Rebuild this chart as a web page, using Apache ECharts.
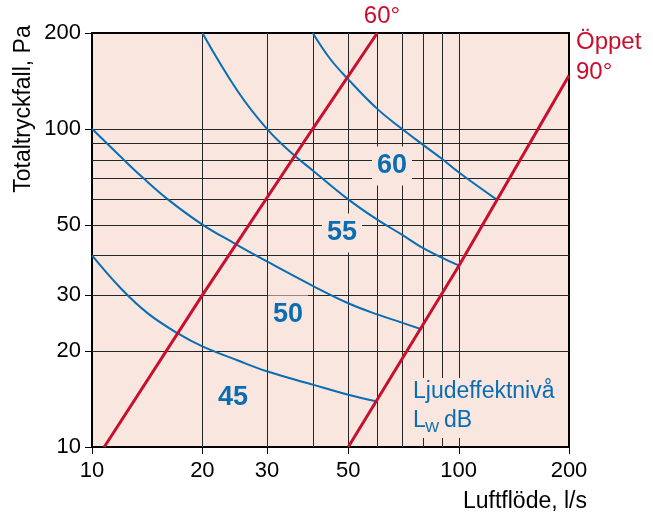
<!DOCTYPE html>
<html>
<head>
<meta charset="utf-8">
<script src="https://cdn.jsdelivr.net/npm/echarts@6/dist/echarts.min.js"></script>
<style>html,body{margin:0;padding:0;background:#fff}#c{width:653px;height:519px}</style>
</head>
<body>
<div id="c"></div>
<script>
// Axis ranges and tick/grid values
const xMin = 10, xMax = 200, yMin = 10, yMax = 200;
const xGrid = [20, 30, 40, 50, 60, 70, 80, 90, 100];
const yGrid = [20, 30, 40, 50, 60, 70, 80, 90, 100];
const xTicks = [10, 20, 30, 50, 100, 200];
const yTicks = [10, 20, 30, 50, 100, 200];

// Sound power level curves (Lw dB): [airflow l/s, pressure Pa]
const curve45 = [[10,40],[12.05,31.3],[14.2,26.3],[17.2,22.7],[20,20.7],[25,18.7],[30,17.3],[40,15.7],[50,14.6],[60,13.9]];
const curve50 = [[10,100],[12.2,80],[13.8,70],[16.1,60],[20,50],[24.5,43.6],[30,38.3],[40,32.1],[50,28.3],[60,26.1],[70,24.6],[79.5,23.4]];
const curve55 = [[20,200],[25,131],[30,100],[35.4,83],[40,74],[50,60],[60,51.8],[70,46.5],[80,42.2],[100,37.2]];
const curve60 = [[40,200],[44.6,166],[50,143],[60,115.5],[70,100],[80,89],[90,80.5],[100,73],[126.8,60]];

// Damper position lines
const damper60 = [[10.8,10],[20,30],[40,100],[60,200]];
const damper90 = [[50,10],[100,37],[200,147]];

const BG = '#f8e6df', BLUE = '#0a6db3', RED = '#c8102e', GRID = '#262626';
const FONT = "'Liberation Sans', Arial, Helvetica, sans-serif";
const NUMFONT = "'Liberation Sans Narrow', 'Liberation Sans', Arial, sans-serif";

const chart = echarts.init(document.getElementById('c'), null, {renderer: 'canvas'});

function gridLineSeries(vals, vertical) {
  return {
    type: 'custom', z: 1, silent: true,
    data: vals.map(v => vertical ? [v, yMin] : [xMin, v]),
    renderItem: function (params, api) {
      const v = vertical ? api.value(0) : api.value(1);
      const p1 = vertical ? api.coord([v, yMin]) : api.coord([xMin, v]);
      const p2 = vertical ? api.coord([v, yMax]) : api.coord([xMax, v]);
      const r = a => Math.round(a) + 0.5;
      return {
        type: 'line',
        shape: vertical ? {x1: r(p1[0]), y1: p1[1], x2: r(p2[0]), y2: p2[1]}
                        : {x1: p1[0], y1: r(p1[1]), x2: p2[0], y2: r(p2[1])},
        style: {stroke: GRID, lineWidth: 1}
      };
    }
  };
}

function tickSeries(vals, isX) {
  return {
    type: 'custom', z: 5, silent: true, clip: false,
    data: vals.map(v => isX ? [v, yMin] : [xMin, v]),
    renderItem: function (params, api) {
      const v = isX ? api.value(0) : api.value(1);
      const p = isX ? api.coord([v, yMin]) : api.coord([xMin, v]);
      const r = a => Math.round(a) + 0.5;
      if (isX) {
        return {
          type: 'group',
          children: [
            {type: 'line', shape: {x1: r(p[0]), y1: p[1], x2: r(p[0]), y2: p[1] + 7}, style: {stroke: '#000', lineWidth: 1}},
            {type: 'text', x: p[0], y: p[1] + 13, style: {text: String(v), font: '22px ' + FONT, fill: '#000', textAlign: 'center', align: 'center', textVerticalAlign: 'top', verticalAlign: 'top'}}
          ]
        };
      }
      return {
        type: 'group',
        children: [
          {type: 'line', shape: {x1: p[0] - 7, y1: r(p[1]), x2: p[0], y2: r(p[1])}, style: {stroke: '#000', lineWidth: 1}},
          {type: 'text', x: p[0] - 11, y: p[1], style: {text: String(v), font: '22px ' + FONT, fill: '#000', textAlign: 'right', align: 'right', textVerticalAlign: 'middle', verticalAlign: 'middle'}}
        ]
      };
    }
  };
}

function curve(data, color, width, smooth) {
  return {type: 'line', data: data, showSymbol: false, smooth: smooth, z: 3, silent: true,
          lineStyle: {color: color, width: width}};
}

function txt(x, y, text, opts) {
  return {
    type: 'text', x: x, y: y, z: 100,
    style: Object.assign({text: text, fill: '#000', font: '23px ' + FONT,
      textAlign: 'center', align: 'center', textVerticalAlign: 'middle', verticalAlign: 'middle'}, opts || {})
  };
}

const numStyle = {font: 'bold 27px ' + NUMFONT, fill: BLUE, backgroundColor: BG, padding: [7, 5, 5, 5]};

const yTitle = txt(24, 109, 'Totaltryckfall, Pa', {});
yTitle.rotation = Math.PI / 2;

chart.setOption({
  animation: false,
  grid: {left: 92, right: 84, top: 33, bottom: 72, show: true, backgroundColor: BG, borderColor: '#000', borderWidth: 2},
  xAxis: {type: 'log', logBase: 10, min: xMin, max: xMax,
          axisLine: {show: false}, axisTick: {show: false}, axisLabel: {show: false}, splitLine: {show: false}},
  yAxis: {type: 'log', logBase: 10, min: yMin, max: yMax,
          axisLine: {show: false}, axisTick: {show: false}, axisLabel: {show: false}, splitLine: {show: false}},
  series: [
    gridLineSeries(xGrid, true),
    gridLineSeries(yGrid, false),
    tickSeries(xTicks, true),
    tickSeries(yTicks, false),
    curve(curve45, BLUE, 2, 0.4),
    curve(curve50, BLUE, 2, 0.4),
    curve(curve55, BLUE, 2, 0.4),
    curve(curve60, BLUE, 2, 0.4),
    curve(damper60, RED, 3, false),
    curve(damper90, RED, 3, false)
  ],
  graphic: [
    {type: 'rect', z: 99, shape: {x: 409, y: 378, width: 152, height: 60}, style: {fill: BG}},
    yTitle,
    txt(525, 502, 'Luftflöde, l/s', {}),
    txt(382, 16, '60°', {fill: RED, font: '24px ' + FONT}),
    txt(576, 42, 'Öppet', {fill: RED, font: '24px ' + FONT, textAlign: 'left', align: 'left'}),
    txt(576, 72, '90°', {fill: RED, font: '24px ' + FONT, textAlign: 'left', align: 'left'}),
    txt(413, 392, 'Ljudeffektnivå', {fill: BLUE, textAlign: 'left', align: 'left'}),
    txt(413, 421, 'L', {fill: BLUE, textAlign: 'left', align: 'left'}),
    txt(425, 428, 'W', {fill: BLUE, font: '15px ' + FONT, textAlign: 'left', align: 'left'}),
    txt(444, 421, 'dB', {fill: BLUE, textAlign: 'left', align: 'left'}),
    txt(233, 398, '45', numStyle),
    txt(288, 315, '50', numStyle),
    txt(342, 233, '55', numStyle),
    txt(392, 166, '60', numStyle)
  ]
});
</script>
</body>
</html>
